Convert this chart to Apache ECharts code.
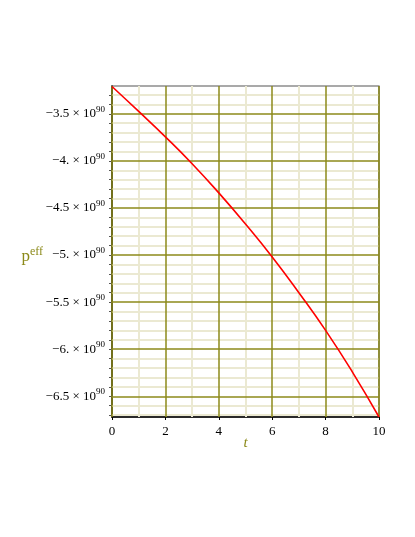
<!DOCTYPE html>
<html>
<head>
<meta charset="utf-8">
<script src="https://cdn.jsdelivr.net/npm/echarts@6/dist/echarts.min.js"></script>
<style>
html,body{margin:0;padding:0;background:#fff;}
#c{width:415px;height:537px;}
</style>
</head>
<body>
<div id="c"></div>
<script>
// values of p_eff in units of 10^90
const tValues = [0, 1, 2, 3, 4, 5, 6, 7, 8, 9, 10];
const pValues = [-3.21, -3.475, -3.745, -4.03, -4.34, -4.67, -5.02, -5.40, -5.80, -6.24, -6.72];
const xTickValues = [0, 2, 4, 6, 8, 10];
const xMinorValues = [1, 3, 5, 7, 9];
const yTickValues = [-6.5, -6, -5.5, -5, -4.5, -4, -3.5];
const yTickLabels = ['\u22126.5', '\u22126.', '\u22125.5', '\u22125.', '\u22124.5', '\u22124.', '\u22123.5'];
const yMinorValues = [-6.7, -6.6, -6.4, -6.3, -6.2, -6.1, -5.9, -5.8, -5.7, -5.6, -5.4, -5.3, -5.2, -5.1,
  -4.9, -4.8, -4.7, -4.6, -4.4, -4.3, -4.2, -4.1, -3.9, -3.8, -3.7, -3.6, -3.4, -3.3];
const yExtent = [-6.72, -3.205];
const xExtent = [0, 10];

const serif = '"Liberation Serif", "DejaVu Serif", serif';
const olive = '#8c8a1a';
const pale = '#ebe9d2';

const chart = echarts.init(document.getElementById('c'), null, {renderer: 'canvas'});

const minorLines = [].concat(
  xMinorValues.map(v => ({xAxis: v})),
  yMinorValues.map(v => ({yAxis: v}))
);
const majorLines = [].concat(
  xTickValues.map(v => ({xAxis: v})),
  yTickValues.map(v => ({yAxis: v}))
);
const allYTicks = yMinorValues.concat(yTickValues).sort((a, b) => a - b);

function gridSeries(lines, color, width, z) {
  return {
    type: 'line', data: [], z: z, silent: true,
    markLine: {
      silent: true, symbol: ['none', 'none'], animation: false,
      label: {show: false},
      lineStyle: {color: color, width: width, type: 'solid'},
      emphasis: {disabled: true},
      data: lines
    }
  };
}

chart.setOption({
  animation: false,
  backgroundColor: '#fff',
  grid: {left: 112, right: 36, top: 86, bottom: 120, show: true, borderColor: '#555', borderWidth: 1.2, backgroundColor: 'transparent'},
  xAxis: {
    type: 'value', min: xExtent[0], max: xExtent[1], interval: 2,
    axisLine: {show: true, lineStyle: {color: '#000', width: 1.5}},
    axisTick: {show: true, length: 3, lineStyle: {color: '#000'}},
    axisLabel: {color: '#000', fontFamily: serif, fontSize: 13, margin: 8},
    splitLine: {show: false},
    name: 't', nameLocation: 'middle', nameGap: 19, nameMoveOverlap: false,
    nameTextStyle: {color: olive, fontFamily: serif, fontStyle: 'italic', fontSize: 15}
  },
  yAxis: {
    type: 'value', min: yExtent[0], max: yExtent[1],
    axisLine: {show: true, lineStyle: {color: '#000', width: 1.5}},
    axisTick: {show: true, length: 3, customValues: allYTicks, lineStyle: {color: '#555'}},
    axisLabel: {
      customValues: yTickValues, margin: 7,
      formatter: function (v) {
        const i = yTickValues.findIndex(x => Math.abs(x - v) < 1e-6);
        return i < 0 ? '' : '{m|' + yTickLabels[i] + ' \u00d7 10}{s|90}';
      },
      rich: {
        m: {fontFamily: serif, fontSize: 13, color: '#000', lineHeight: 18},
        s: {fontFamily: serif, fontSize: 9, color: '#000', verticalAlign: 'top', lineHeight: 9}
      }
    },
    splitLine: {show: false},
    name: '{p|p}{e|eff}', nameLocation: 'middle', nameRotate: 0, nameGap: 69, nameMoveOverlap: false,
    nameTextStyle: {
      padding: [10, 0, 0, 0],
      rich: {
        p: {fontFamily: serif, fontSize: 17, color: olive, lineHeight: 22},
        e: {fontFamily: serif, fontSize: 12, color: olive, verticalAlign: 'top', lineHeight: 12}
      }
    }
  },
  series: [
    gridSeries(minorLines, pale, 2, 1),
    gridSeries(majorLines, olive, 1.5, 2),
    {
      type: 'line', z: 5, smooth: true, symbol: 'none', silent: true,
      lineStyle: {color: '#ff0000', width: 1.6},
      data: tValues.map((t, i) => [t, pValues[i]])
    }
  ]
});
</script>
</body>
</html>
